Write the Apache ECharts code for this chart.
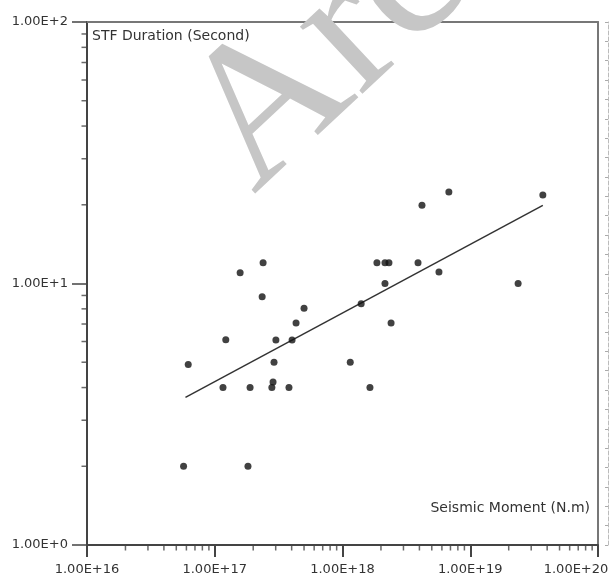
<!DOCTYPE html>
<html>
<head>
<meta charset="utf-8">
<script src="https://cdn.jsdelivr.net/npm/echarts@6/dist/echarts.min.js"></script>
<style>html,body{margin:0;padding:0;background:#fff}#c{width:612px;height:583px}</style>
</head>
<body>
<div id="c"></div>
<script>
// Seismic moment (N.m) and STF duration (s) pairs
const momentValues = [
  5.7e16, 1.82e17, 6.2e16, 1.22e17, 1.16e17, 1.89e17, 1.58e17, 2.39e17, 2.35e17,
  5.0e17, 4.33e17, 3.01e17, 4.03e17, 2.91e17, 2.86e17, 2.8e17, 3.81e17,
  1.15e18, 1.64e18, 1.4e18, 2.15e18, 2.4e18, 1.86e18, 2.15e18, 2.31e18,
  3.9e18, 5.69e18, 4.19e18, 6.8e18, 2.37e19, 3.7e19
];
const durationValues = [
  2.0, 2.0, 4.9, 6.1, 4.0, 4.0, 11.0, 12.0, 8.9,
  8.05, 7.06, 6.08, 6.08, 5.0, 4.2, 4.0, 4.0,
  5.0, 4.0, 8.36, 10.0, 7.06, 12.0, 12.0, 12.0,
  12.0, 11.07, 19.9, 22.4, 10.0, 21.8
];
// Fitted line end points
const fitMoment = [5.9e16, 3.7e19];
const fitDuration = [3.67, 19.9];
// Axis ranges and minor tick multipliers
const xRange = [1e16, 1e20];
const yRange = [1, 100];
const minorMultipliers = [2, 3, 4, 5, 6, 7, 8, 9];
const xDecades = [1e16, 1e17, 1e18, 1e19];
const yDecades = [1, 10];
const yTitle = 'STF Duration (Second)';
const xTitle = 'Seismic Moment (N.m)';
const watermark = 'Archive of SID';

const points = momentValues.map((m, i) => [m, durationValues[i]]);
const fitLine = fitMoment.map((m, i) => [m, fitDuration[i]]);
const xMinor = [];
xDecades.forEach(d => minorMultipliers.forEach(k => xMinor.push([d * k, yRange[0]])));
const yMinor = [];
yDecades.forEach(d => minorMultipliers.forEach(k => yMinor.push([xRange[0], d * k])));

const fmt = v => '1.00E+' + Math.round(Math.log10(v));
const xFmt = v => v >= xRange[1] ? '{last|' + fmt(v) + '}' : fmt(v);
const axisColor = '#444';
const labelFont = { fontFamily: 'DejaVu Sans', fontSize: 13, color: '#333' };

const wmRot = 0.75;
const wmFoot = [252, 193];
const wmShift = 50;

const chart = echarts.init(document.getElementById('c'), null, { renderer: 'canvas' });
chart.setOption({
  animation: false,
  backgroundColor: '#fff',
  grid: { left: 87, right: 14, top: 22, bottom: 38, containLabel: false, outerBoundsMode: 'none' },
  xAxis: [{
    type: 'log', logBase: 10, min: xRange[0], max: xRange[1],
    axisLine: { show: true, lineStyle: { color: axisColor, width: 2 } },
    axisTick: { show: true, length: 12, lineStyle: { color: axisColor, width: 2 } },
    axisLabel: Object.assign({
      formatter: xFmt, margin: 18, hideOverlap: false, overflow: 'none',
      rich: { last: { fontFamily: 'DejaVu Sans', fontSize: 13, color: '#333', padding: [0, 44, 0, 0] } }
    }, labelFont),
    splitLine: { show: false }
  }, {
    type: 'log', logBase: 10, min: xRange[0], max: xRange[1], position: 'top',
    axisLine: { show: true, lineStyle: { color: '#777', width: 2 } },
    axisTick: { show: false }, axisLabel: { show: false }, splitLine: { show: false }
  }],
  yAxis: [{
    type: 'log', logBase: 10, min: yRange[0], max: yRange[1],
    axisLine: { show: true, lineStyle: { color: axisColor, width: 2 } },
    axisTick: { show: true, length: 15, lineStyle: { color: axisColor, width: 1.5 } },
    axisLabel: Object.assign({ formatter: fmt, margin: 19 }, labelFont),
    splitLine: { show: false }
  }, {
    type: 'log', logBase: 10, min: yRange[0], max: yRange[1], position: 'right',
    axisLine: { show: true, lineStyle: { color: '#777', width: 2 } },
    axisTick: { show: false }, axisLabel: { show: false }, splitLine: { show: false }
  }, {
    type: 'value', min: 0, max: 27, interval: 1, position: 'right', offset: 10,
    axisLine: { show: true, lineStyle: { color: '#bbb', width: 1, type: 'dashed' } },
    axisTick: { show: true, inside: true, length: 3, lineStyle: { color: '#aaa' } },
    axisLabel: { show: false }, splitLine: { show: false }
  }],
  series: [{
    type: 'scatter', data: xMinor, symbol: 'rect', symbolSize: [1.5, 5], symbolOffset: [0, 3],
    itemStyle: { color: axisColor }, clip: false, silent: true, z: 1
  }, {
    type: 'scatter', data: yMinor, symbol: 'rect', symbolSize: [5, 1.5], symbolOffset: [-3, 0],
    itemStyle: { color: axisColor }, clip: false, silent: true, z: 1
  }, {
    type: 'line', data: fitLine, symbol: 'none',
    lineStyle: { color: '#333', width: 1.5 }, z: 2
  }, {
    type: 'scatter', data: points, symbol: 'circle', symbolSize: 7,
    itemStyle: { color: '#111' }, z: 3
  }],
  graphic: [{
    type: 'text', left: 92, top: 29,
    style: { text: yTitle, font: '14px "DejaVu Sans"', fill: '#333' }
  }, {
    type: 'text', right: 22, top: 501,
    style: { text: xTitle, font: '14px "DejaVu Sans"', fill: '#333' }
  }, {
    type: 'text', z: 100,
    x: wmFoot[0] - wmShift * Math.sin(wmRot), y: wmFoot[1] - wmShift * Math.cos(wmRot),
    rotation: wmRot,
    style: { text: watermark, font: '200px "Liberation Serif"', fill: '#c6c6c6',
             align: 'left', verticalAlign: 'middle' }
  }]
});
</script>
</body>
</html>
